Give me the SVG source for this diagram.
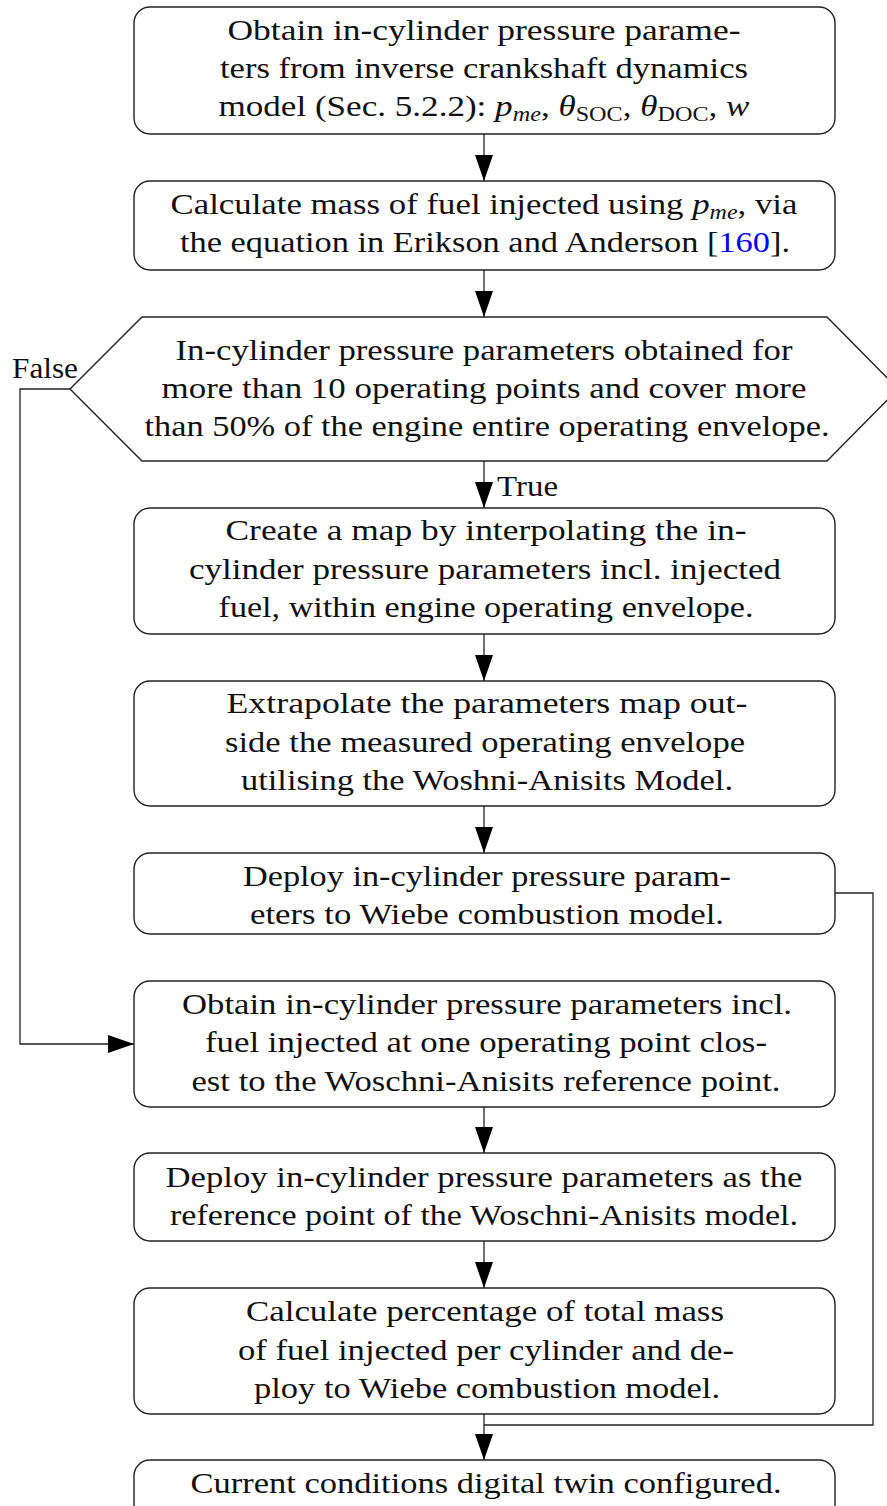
<svg xmlns="http://www.w3.org/2000/svg" width="887" height="1506" viewBox="0 0 887 1506">
<style>
.box{fill:#fff;stroke:#222;stroke-width:1.4}
.t{font-family:"Liberation Serif","Times New Roman",serif;font-size:29px;fill:#111;text-anchor:middle}
.lbl{font-family:"Liberation Serif","Times New Roman",serif;font-size:29px;fill:#111}
.i{font-style:italic}
.s{font-size:20px}
.ln{fill:none;stroke:#222;stroke-width:1.3}
.cite{fill:#0000ff}
</style>
<defs>
<marker id="ah" markerUnits="userSpaceOnUse" markerWidth="26" markerHeight="18" refX="26" refY="9" orient="auto">
<path d="M0,0 L26,9 L0,18 z" fill="#000"/>
</marker>
</defs>
<rect width="887" height="1506" fill="#fff"/>
<g id="connectors">
<line class="ln" x1="484" y1="134" x2="484" y2="181" marker-end="url(#ah)"/>
<line class="ln" x1="484" y1="270" x2="484" y2="317" marker-end="url(#ah)"/>
<line class="ln" x1="484" y1="461" x2="484" y2="508" marker-end="url(#ah)"/>
<line class="ln" x1="484" y1="634" x2="484" y2="681" marker-end="url(#ah)"/>
<line class="ln" x1="484" y1="806" x2="484" y2="853" marker-end="url(#ah)"/>
<line class="ln" x1="484" y1="1107" x2="484" y2="1153" marker-end="url(#ah)"/>
<line class="ln" x1="484" y1="1241" x2="484" y2="1288" marker-end="url(#ah)"/>
<line class="ln" x1="484" y1="1414" x2="484" y2="1460" marker-end="url(#ah)"/>
<polyline class="ln" points="70,389 20,389 20,1044 134,1044" marker-end="url(#ah)"/>
<polyline class="ln" points="835,893 873,893 873,1425 484,1425"/>
<text class="lbl" x="12" y="378" textLength="66" lengthAdjust="spacingAndGlyphs">False</text>
<text class="lbl" x="497" y="496" textLength="61" lengthAdjust="spacingAndGlyphs">True</text>
</g>
<g id="n1">
<rect class="box" x="134" y="7" width="701" height="127" rx="16"/>
<text class="t" x="484" y="40" textLength="513" lengthAdjust="spacingAndGlyphs">Obtain in-cylinder pressure parame-</text>
<text class="t" x="484" y="78" textLength="528" lengthAdjust="spacingAndGlyphs">ters from inverse crankshaft dynamics</text>
<text class="t" x="484" y="116" textLength="531" lengthAdjust="spacingAndGlyphs">model (Sec. 5.2.2): <tspan class="i">p</tspan><tspan class="i s" dy="5">me</tspan><tspan dy="-5">, </tspan><tspan class="i">θ</tspan><tspan class="s" dy="5">SOC</tspan><tspan dy="-5">, </tspan><tspan class="i">θ</tspan><tspan class="s" dy="5">DOC</tspan><tspan dy="-5">, </tspan><tspan class="i">w</tspan></text>
</g>
<g id="n2">
<rect class="box" x="134" y="181" width="701" height="89" rx="16"/>
<text class="t" x="484" y="214" textLength="627" lengthAdjust="spacingAndGlyphs">Calculate mass of fuel injected using <tspan class="i">p</tspan><tspan class="i s" dy="5">me</tspan><tspan dy="-5">, via</tspan></text>
<text class="t" x="485" y="252" textLength="610" lengthAdjust="spacingAndGlyphs">the equation in Erikson and Anderson [<tspan class="cite">160</tspan>].</text>
</g>
<g id="n3">
<polygon class="box" points="142,317 827,317 898,389 827,461 142,461 70,389"/>
<text class="t" x="484" y="360" textLength="617" lengthAdjust="spacingAndGlyphs">In-cylinder pressure parameters obtained for</text>
<text class="t" x="484" y="398" textLength="645" lengthAdjust="spacingAndGlyphs">more than 10 operating points and cover more</text>
<text class="t" x="487" y="436" textLength="685" lengthAdjust="spacingAndGlyphs">than 50% of the engine entire operating envelope.</text>
</g>
<g id="n4">
<rect class="box" x="134" y="508" width="701" height="126" rx="16"/>
<text class="t" x="486" y="540" textLength="521" lengthAdjust="spacingAndGlyphs">Create a map by interpolating the in-</text>
<text class="t" x="485" y="579" textLength="592" lengthAdjust="spacingAndGlyphs">cylinder pressure parameters incl. injected</text>
<text class="t" x="486" y="617" textLength="535" lengthAdjust="spacingAndGlyphs">fuel, within engine operating envelope.</text>
</g>
<g id="n5">
<rect class="box" x="134" y="681" width="701" height="125" rx="16"/>
<text class="t" x="487" y="713" textLength="521" lengthAdjust="spacingAndGlyphs">Extrapolate the parameters map out-</text>
<text class="t" x="485" y="752" textLength="520" lengthAdjust="spacingAndGlyphs">side the measured operating envelope</text>
<text class="t" x="487" y="790" textLength="492" lengthAdjust="spacingAndGlyphs">utilising the Woshni-Anisits Model.</text>
</g>
<g id="n6">
<rect class="box" x="134" y="853" width="701" height="81" rx="16"/>
<text class="t" x="487" y="886" textLength="488" lengthAdjust="spacingAndGlyphs">Deploy in-cylinder pressure param-</text>
<text class="t" x="487" y="924" textLength="474" lengthAdjust="spacingAndGlyphs">eters to Wiebe combustion model.</text>
</g>
<g id="n7">
<rect class="box" x="134" y="981" width="701" height="126" rx="16"/>
<text class="t" x="487" y="1014" textLength="610" lengthAdjust="spacingAndGlyphs">Obtain in-cylinder pressure parameters incl.</text>
<text class="t" x="486" y="1052" textLength="562" lengthAdjust="spacingAndGlyphs">fuel injected at one operating point clos-</text>
<text class="t" x="486" y="1091" textLength="589" lengthAdjust="spacingAndGlyphs">est to the Woschni-Anisits reference point.</text>
</g>
<g id="n8">
<rect class="box" x="134" y="1153" width="701" height="88" rx="16"/>
<text class="t" x="484" y="1187" textLength="637" lengthAdjust="spacingAndGlyphs">Deploy in-cylinder pressure parameters as the</text>
<text class="t" x="484" y="1225" textLength="628" lengthAdjust="spacingAndGlyphs">reference point of the Woschni-Anisits model.</text>
</g>
<g id="n9">
<rect class="box" x="134" y="1288" width="701" height="126" rx="16"/>
<text class="t" x="485" y="1321" textLength="478" lengthAdjust="spacingAndGlyphs">Calculate percentage of total mass</text>
<text class="t" x="486" y="1360" textLength="496" lengthAdjust="spacingAndGlyphs">of fuel injected per cylinder and de-</text>
<text class="t" x="487" y="1398" textLength="466" lengthAdjust="spacingAndGlyphs">ploy to Wiebe combustion model.</text>
</g>
<g id="n10">
<rect class="box" x="134" y="1460" width="701" height="66" rx="16"/>
<text class="t" x="486" y="1493" textLength="591" lengthAdjust="spacingAndGlyphs">Current conditions digital twin configured.</text>
</g>
</svg>
